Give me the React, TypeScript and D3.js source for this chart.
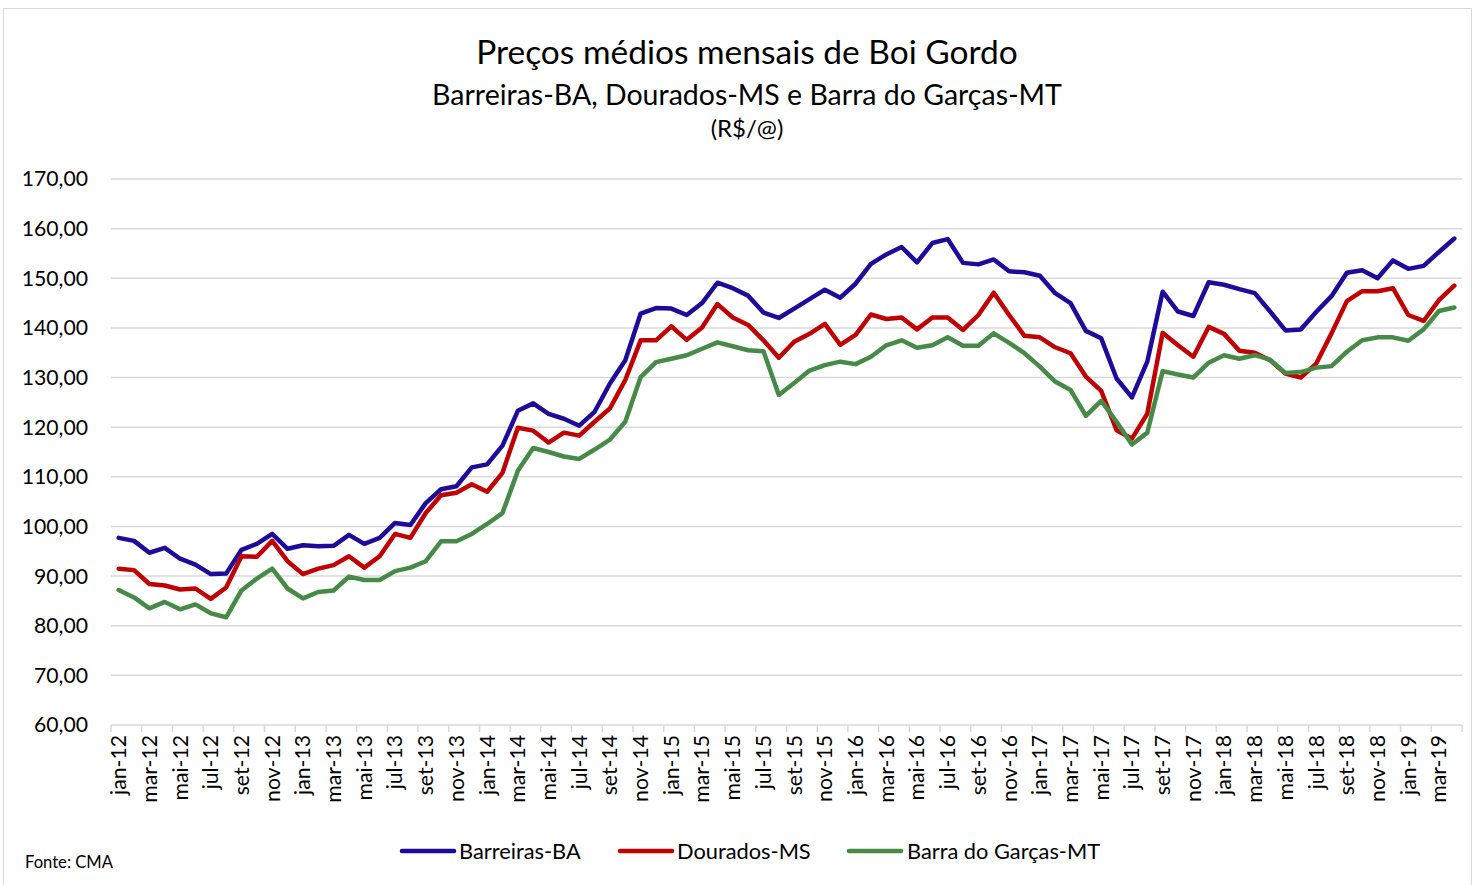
import React from 'react';
import * as d3 from 'd3';

const monthNames = ['jan', 'fev', 'mar', 'abr', 'mai', 'jun', 'jul', 'ago', 'set', 'out', 'nov', 'dez'];
const years = ['12', '13', '14', '15', '16', '17', '18', '19'];
const categories = years.flatMap((y) => monthNames.map((m) => `${m}-${y}`)).slice(0, 88);

const barreiras = [
  97.7, 97.1, 94.7, 95.7, 93.5, 92.3, 90.4, 90.5, 95.3, 96.5, 98.5, 95.5,
  96.2, 96.0, 96.1, 98.3, 96.5, 97.7, 100.7, 100.3, 104.7, 107.5, 108.1, 111.9,
  112.5, 116.3, 123.3, 124.8, 122.7, 121.7, 120.3, 123.1, 128.8, 133.5, 142.9, 144.0,
  143.9, 142.6, 145.0, 149.1, 148.0, 146.5, 143.1, 142.0, 143.9, 145.8, 147.7, 146.1,
  148.9, 152.9, 154.8, 156.3, 153.2, 157.1, 157.9, 153.1, 152.8, 153.8, 151.4, 151.2,
  150.5, 147.0, 145.0, 139.4, 137.9, 129.8, 126.0, 133.2, 147.3, 143.3, 142.4, 149.2,
  148.7, 147.8, 147.0, 143.3, 139.5, 139.7, 143.2, 146.4, 151.1, 151.6, 150.0, 153.6,
  151.9, 152.5, 155.3, 158.0,
];

const dourados = [
  91.5, 91.2, 88.4, 88.1, 87.3, 87.5, 85.4, 87.7, 94.0, 93.9, 97.1, 93.0,
  90.4, 91.5, 92.2, 94.0, 91.7, 94.0, 98.5, 97.7, 102.7, 106.3, 106.8, 108.5,
  107.0, 110.8, 119.9, 119.3, 116.9, 118.9, 118.3, 121.1, 123.8, 129.5, 137.5, 137.5,
  140.3, 137.6, 140.1, 144.8, 142.1, 140.6, 137.5, 134.0, 137.2, 138.8, 140.8, 136.6,
  138.6, 142.7, 141.8, 142.1, 139.7, 142.1, 142.1, 139.6, 142.6, 147.1, 142.6, 138.4,
  138.1, 136.1, 134.9, 130.2, 127.3, 119.4, 117.7, 122.7, 139.0, 136.5, 134.2, 140.2,
  138.8, 135.4, 135.0, 133.5, 130.8, 130.0, 132.8, 138.9, 145.4, 147.4, 147.4, 148.0,
  142.6, 141.4, 145.6, 148.5,
];

const barraGarcas = [
  87.2, 85.7, 83.5, 84.8, 83.3, 84.3, 82.5, 81.7, 87.1, 89.5, 91.5, 87.5,
  85.5, 86.8, 87.1, 89.9, 89.2, 89.2, 91.0, 91.7, 93.0, 97.0, 97.0, 98.5,
  100.5, 102.7, 111.2, 115.8, 115.0, 114.1, 113.6, 115.5, 117.5, 121.1, 130.1, 133.1,
  133.8, 134.5, 135.8, 137.1, 136.3, 135.5, 135.3, 126.5, 128.9, 131.4, 132.5, 133.2,
  132.7, 134.2, 136.5, 137.5, 136.0, 136.5, 138.1, 136.4, 136.4, 138.9, 137.0, 134.9,
  132.2, 129.2, 127.5, 122.3, 125.3, 121.1, 116.5, 118.9, 131.3, 130.6, 130.0, 133.0,
  134.5, 133.8, 134.5, 133.6, 130.9, 131.1, 132.0, 132.3, 135.2, 137.5, 138.1, 138.1,
  137.4, 139.7, 143.4, 144.1,
];

const yTicks = [60, 70, 80, 90, 100, 110, 120, 130, 140, 150, 160, 170];

const seriesNames = ['Barreiras-BA', 'Dourados-MS', 'Barra do Garças-MT'];
const seriesColors = ['#1C0C99', '#C00000', '#478A48'];
const seriesData = [barreiras, dourados, barraGarcas];

const FONT = 'Lato, "Open Sans", sans-serif';

export default function App() {
  const x = d3.scaleBand<string>().domain(categories).range([111, 1462]).padding(0);
  const y = d3.scaleLinear().domain([60, 170]).range([725, 179]);
  const cx = (i: number) => (x(categories[i]) as number) + x.bandwidth() / 2;
  const line = d3
    .line<number>()
    .x((_, i) => cx(i))
    .y((d) => y(d));
  const fmt = (v: number) => v.toFixed(2).replace('.', ',');

  const tickXs = categories
    .map((c, i) => (i % 2 === 0 ? (x(c) as number) : null))
    .filter((v) => v !== null) as number[];
  tickXs.push(x.range()[1]);

  const legendItems = [
    { lx: 402, tx: 459 },
    { lx: 620, tx: 677 },
    { lx: 849, tx: 907 },
  ];

  return (
    <svg
      width={1477}
      height={885}
      style={{ position: 'absolute', left: 0, top: 0, background: '#fff' }}
      fontFamily={FONT}
    >
      <rect x={3.5} y={8.5} width={1468} height={890} fill="#fff" stroke="#d9d9d9" strokeWidth={1} />
      <text x={747} y={64} textAnchor="middle" fontSize={33.5} fill="#000">
        Preços médios mensais de Boi Gordo
      </text>
      <text x={747} y={105} textAnchor="middle" fontSize={28.5} fill="#000">
        Barreiras-BA, Dourados-MS e Barra do Garças-MT
      </text>
      <text x={747} y={137} textAnchor="middle" fontSize={24} fill="#000">
        (R$/@)
      </text>

      {yTicks.map((t) => (
        <g key={t}>
          {t !== 60 && (
            <line x1={111} x2={1462} y1={y(t)} y2={y(t)} stroke="#d9d9d9" strokeWidth={1.5} />
          )}
          <text x={88} y={y(t)} dy="0.35em" textAnchor="end" fontSize={21.2} fill="#000">
            {fmt(t)}
          </text>
        </g>
      ))}

      <line x1={111} x2={1462} y1={y(60)} y2={y(60)} stroke="#d9d9d9" strokeWidth={1.5} />
      {tickXs.map((tx, i) => (
        <line key={i} x1={tx} x2={tx} y1={y(60)} y2={y(60) + 7} stroke="#d9d9d9" strokeWidth={1.5} />
      ))}
      {categories.map((c, i) =>
        i % 2 === 0 ? (
          <text
            key={c}
            transform={`translate(${cx(i)},735) rotate(-90)`}
            dy="0.35em"
            textAnchor="end"
            fontSize={21.2}
            fill="#000"
          >
            {c}
          </text>
        ) : null
      )}

      {seriesData.map((s, k) => (
        <path
          key={k}
          d={line(s) as string}
          fill="none"
          stroke={seriesColors[k]}
          strokeWidth={4.5}
          strokeLinejoin="round"
          strokeLinecap="round"
        />
      ))}

      {legendItems.map((it, k) => (
        <g key={k}>
          <line x1={it.lx} x2={it.lx + 52} y1={851} y2={851} stroke={seriesColors[k]} strokeWidth={4.5} strokeLinecap="round" />
          <text x={it.tx} y={851} dy="0.35em" fontSize={21.8} fill="#000">
            {seriesNames[k]}
          </text>
        </g>
      ))}

      <text x={25} y={868} fontSize={16.6} fill="#000">
        Fonte: CMA
      </text>
    </svg>
  );
}
